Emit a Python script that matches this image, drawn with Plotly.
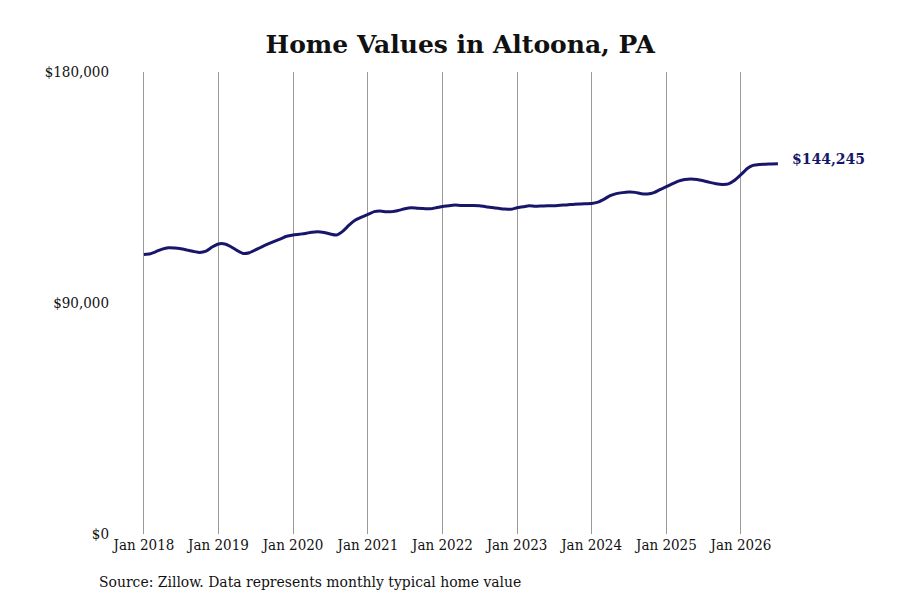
import plotly.graph_objects as go
import pandas as pd

# Monthly typical home value, Jan 2018 onward
months = pd.date_range("2018-01-01", periods=103, freq="MS")

values_2018 = [108900, 109200, 110000, 111000, 111500, 111400,
               111100, 110600, 110100, 109700, 110200, 111800]
values_2019 = [113000, 113000, 112000, 110500, 109300, 109600,
               110700, 111900, 113000, 114000, 115000, 116000]
values_2020 = [116500, 116800, 117100, 117600, 117800, 117500,
               116900, 116500, 118000, 120300, 122300, 123500]
values_2021 = [124500, 125600, 125800, 125600, 125600, 126100,
               126700, 127100, 126900, 126800, 126700, 127100]
values_2022 = [127600, 127900, 128200, 128000, 128000, 128000,
               127900, 127500, 127200, 126900, 126600, 126500]
values_2023 = [127100, 127500, 127900, 127700, 127800, 127900,
               127900, 128100, 128200, 128400, 128600, 128700]
values_2024 = [128800, 129300, 130400, 131800, 132600, 133000,
               133200, 133100, 132600, 132500, 133000, 134200]
values_2025 = [135300, 136500, 137500, 138100, 138300, 138100,
               137600, 137000, 136500, 136200, 136400, 137800]
values_2026 = [140000, 142400, 143600, 144000, 144100, 144200, 144245]

values = (values_2018 + values_2019 + values_2020 + values_2021 + values_2022
          + values_2023 + values_2024 + values_2025 + values_2026)

tick_dates = pd.date_range("2018-01-01", "2026-01-01", freq="YS")
tick_labels = [d.strftime("Jan %Y") for d in tick_dates]
y_ticks = [0, 90000, 180000]
y_labels = ["$0", "$90,000", "$180,000"]

LINE_COLOR = "#17166a"
SERIF = "DejaVu Serif"
SERIF_NARROW = "DejaVu Serif Condensed, DejaVu Serif"

fig = go.Figure()
fig.add_trace(go.Scatter(
    x=months,
    y=values,
    mode="lines",
    line=dict(color=LINE_COLOR, width=3, shape="spline", smoothing=0.6),
    hovertemplate="%{x|%b %Y}: $%{y:,.0f}<extra></extra>",
    showlegend=False,
))

# Label for the latest value
fig.add_annotation(
    x=months[-1], y=values[-1],
    text="<b>$%s</b>" % format(values[-1], ","),
    showarrow=False, xanchor="left", yanchor="middle",
    xshift=12, yshift=5,
    font=dict(family=SERIF, size=14, color=LINE_COLOR),
)

fig.add_annotation(
    xref="paper", yref="paper", x=-0.0185, y=-0.104,
    text="Source: Zillow. Data represents monthly typical home value",
    showarrow=False, xanchor="left", yanchor="middle",
    font=dict(family=SERIF_NARROW, size=15.5, color="#111111"),
)

# page body has an 8px margin, so the figure is sized to fit inside the window
fig.update_layout(
    width=892, height=592,
    margin=dict(l=102, r=90, t=64, b=66),
    paper_bgcolor="white", plot_bgcolor="white",
    title=dict(text="<b>Home Values in Altoona, PA</b>", x=0.507, y=0.939,
               xanchor="center", yanchor="middle",
               font=dict(family=SERIF, size=25, color="#111111")),
)

fig.update_xaxes(
    range=["2017-07-19", "2026-12-05"],
    tickvals=tick_dates, ticktext=tick_labels,
    showgrid=True, gridcolor="#9a9a9a", gridwidth=1,
    zeroline=False, showline=False, ticks="",
    tickfont=dict(family=SERIF_NARROW, size=15, color="#111111"),
)
fig.update_yaxes(
    range=[0, 180000],
    tickvals=y_ticks, ticktext=y_labels,
    showgrid=False, zeroline=False, showline=False, ticks="",
    tickfont=dict(family=SERIF_NARROW, size=15, color="#111111"),
)

fig.write_html("out.html")
